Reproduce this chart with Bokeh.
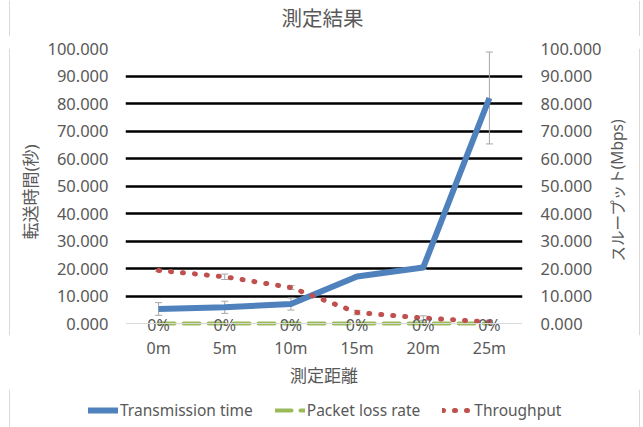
from bokeh.plotting import figure
from bokeh.layouts import column, row
from bokeh.models import (ColumnDataSource, FactorRange, Range1d, LinearAxis, FixedTicker,
                          NumeralTickFormatter, Whisker, TeeHead, Legend, LegendItem, Label, Span)
from bokeh.core.properties import value
from bokeh.embed import file_html
from bokeh.resources import INLINE

# Measurement results by distance
distance = ["0m", "5m", "10m", "15m", "20m", "25m"]
transmission_time = [5.3, 5.9, 7.1, 17.1, 20.4, 82.0]     # seconds
transmission_err = [2.3, 2.2, 2.2, 0.6, 0.8, 16.7]
packet_loss_rate = [0, 0, 0, 0, 0, 0]
packet_loss_labels = ["0%", "0%", "0%", "0%", "0%", "0%"]
throughput = [19.3, 17.0, 13.1, 4.0, 2.0, 0.6]           # Mbps
throughput_err = [0.3, 1.0, 0.7, 0.8, 0.8, 0.3]
y_ticks = [0, 10, 20, 30, 40, 50, 60, 70, 80, 90, 100]

FONT = "Noto Sans, Noto Sans CJK JP"
TEXT = "#595959"
BLUE = "#4f81bd"
GREEN = "#9bbb59"
RED = "#c0504d"
EDGE = "#d9d9d9"
Y_LOW = -4.35   # room under zero for the "0%" data labels

src = ColumnDataSource(dict(
    x=distance,
    t=transmission_time,
    t_lo=[v - e for v, e in zip(transmission_time, transmission_err)],
    t_hi=[v + e for v, e in zip(transmission_time, transmission_err)],
    loss=packet_loss_rate,
    loss_lbl=packet_loss_labels,
    tp=throughput,
    tp_lo=[v - e for v, e in zip(throughput, throughput_err)],
    tp_hi=[v + e for v, e in zip(throughput, throughput_err)],
))


def strip(w, h):
    """Blank panel used for the chart-area pieces around the plot."""
    s = figure(width=w, height=h, x_range=Range1d(0, w), y_range=Range1d(0, h),
               output_backend="svg", toolbar_location=None, x_axis_location=None,
               y_axis_location=None, min_border=0)
    s.outline_line_color = None
    s.grid.visible = False
    return s


# ---- main plot -------------------------------------------------------------
p = figure(width=595, height=353, x_range=FactorRange(*distance), y_range=Range1d(Y_LOW, 100),
           output_backend="svg", toolbar_location=None,
           min_border_left=115, min_border_right=83, min_border_top=12, min_border_bottom=53)
p.extra_y_ranges = {"right": Range1d(Y_LOW, 100)}
p.outline_line_color = None

# grid: black horizontal lines above zero, light baseline at zero
p.xgrid.grid_line_color = None
p.ygrid.ticker = FixedTicker(ticks=y_ticks[1:])
p.ygrid.grid_line_color = "black"
p.ygrid.grid_line_width = 2.5
p.add_layout(Span(location=0, dimension="width", line_color=EDGE, line_width=1))


def style_axis(ax):
    ax.major_label_text_font = FONT
    ax.major_label_text_font_size = "16.5px"
    ax.major_label_text_color = TEXT
    ax.major_tick_line_color = None
    ax.minor_tick_line_color = None
    ax.major_tick_out = 0
    ax.major_tick_in = 0
    ax.axis_line_color = None
    ax.axis_label_text_font = FONT
    ax.axis_label_text_font_size = "17px"
    ax.axis_label_text_font_style = "normal"
    ax.axis_label_text_color = TEXT


xa = p.xaxis[0]
style_axis(xa)
xa.major_label_text_font_size = "16px"
xa.major_label_standoff = 1
xa.axis_label = "測定距離"
xa.axis_label_standoff = 2

ya = p.yaxis[0]
style_axis(ya)
ya.ticker = FixedTicker(ticks=y_ticks)
ya.formatter = NumeralTickFormatter(format="0.000")
ya.major_label_standoff = 17
ya.axis_label = "転送時間(秒)"
ya.axis_label_standoff = 2

ra = LinearAxis(y_range_name="right", ticker=FixedTicker(ticks=y_ticks),
                formatter=NumeralTickFormatter(format="0.000"))
style_axis(ra)
ra.major_label_standoff = 18
p.add_layout(ra, "right")

# series
r_t = p.line("x", "t", source=src, line_color=BLUE, line_width=6, line_join="round")
p.add_layout(Whisker(source=src, base="x", lower="t_lo", upper="t_hi", line_color="#a6a6a6",
                     line_width=1,
                     lower_head=TeeHead(size=7, line_color="#a6a6a6", line_width=1),
                     upper_head=TeeHead(size=7, line_color="#a6a6a6", line_width=1)))

r_l = p.line("x", "loss", source=src, line_color=GREEN, line_width=4, line_dash="16 9",
             line_cap="round")

r_tp = p.line("x", "tp", source=src, y_range_name="right", line_color=RED, line_width=5,
              line_dash="1 11", line_cap="round")
p.add_layout(Whisker(source=src, base="x", lower="tp_lo", upper="tp_hi", y_range_name="right",
                     line_color="#a6a6a6", line_width=1,
                     lower_head=TeeHead(size=7, line_color="#a6a6a6", line_width=1),
                     upper_head=TeeHead(size=7, line_color="#a6a6a6", line_width=1)))

p.text("x", "loss", text="loss_lbl", source=src, text_align="center", text_baseline="middle",
       y_offset=1, text_font=value(FONT), text_font_size="16px", text_color=TEXT)

# ---- surrounding pieces ----------------------------------------------------
top = strip(643, 36)
top.add_layout(Label(x=322, y=18.5, text="測定結果", text_align="center", text_baseline="middle",
                     text_font=FONT, text_font_size="20.5px", text_color=TEXT))

left = strip(10, 353)

side = strip(38, 353)
side.add_layout(Label(x=12, y=179, text="スループット(Mbps)", angle=1.5708,
                      text_align="center", text_baseline="middle",
                      text_font=FONT, text_font_size="15.5px", text_color=TEXT))

leg = strip(643, 38)
g_t = leg.line([1000, 1001], [1000, 1001], line_color=BLUE, line_width=6, line_cap="round")
g_l = leg.line([1000, 1001], [1000, 1001], line_color=GREEN, line_width=4, line_dash="16 9",
               line_cap="round")
g_tp = leg.line([1000, 1001], [1000, 1001], line_color=RED, line_width=5, line_dash="1 11",
                line_cap="round")
legend = Legend(items=[LegendItem(label="Transmission time", renderers=[g_t]),
                       LegendItem(label="Packet loss rate", renderers=[g_l]),
                       LegendItem(label="Throughput", renderers=[g_tp])],
                orientation="horizontal", location=(88, 6),
                glyph_width=30, glyph_height=20, label_height=20, label_standoff=2, spacing=22,
                padding=0, margin=0, border_line_color=None, background_fill_alpha=0,
                label_text_font=FONT, label_text_font_size="15.5px", label_text_color=TEXT)
leg.add_layout(legend, "center")

# thin chart-area edges on both sides
for s, xs in ((top, (9, 639)), (leg, (9, 639)), (left, (9,)), (side, (34,))):
    for xv in xs:
        s.add_layout(Span(location=xv, dimension="height", line_color=EDGE, line_width=1))

layout = column(top, row(left, p, side), leg)
open("out.html", "w").write(file_html(layout, INLINE))
